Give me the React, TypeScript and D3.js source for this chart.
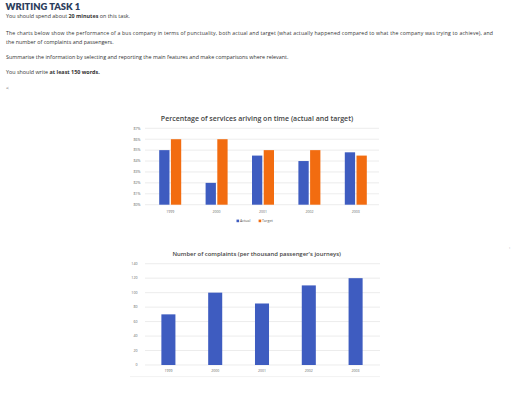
import React from "react";
import * as d3 from "d3";

const years = ["1999", "2000", "2001", "2002", "2003"];
const series = ["Actual", "Target"];
const actual = [85, 82, 84.5, 84, 84.8];
const target = [86, 86, 85, 85, 84.5];
const pctTicks = [80, 81, 82, 83, 84, 85, 86, 87];
const complaints = [70, 100, 85, 110, 120];
const complaintTicks = [0, 20, 40, 60, 80, 100, 120, 140];

const BLUE = "#3e5cc0";
const ORANGE = "#f26c10";
const GRID = "#e4e4e4";
const FONT = "'Open Sans', Lato, sans-serif";

export default function App() {
  // top chart scales
  const x1 = d3.scaleBand().domain(years).range([147, 379]).padding(0);
  const inner = d3.scaleBand().domain(series).range([0, 22]).paddingInner(0.12);
  const y1 = d3.scaleLinear().domain([80, 87]).range([204.7, 128.3]);
  const colors = d3.scaleOrdinal<string, string>().domain(series).range([BLUE, ORANGE]);
  const vals: Record<string, number[]> = { Actual: actual, Target: target };

  // bottom chart scales
  const x2 = d3.scaleBand().domain(years).range([145, 379]).padding(0);
  const y2 = d3.scaleLinear().domain([0, 140]).range([365, 263.7]);
  const bw2 = x2.bandwidth() * 0.3;

  return (
    <svg
      width={512}
      height={413}
      style={{ position: "absolute", left: 0, top: 0, background: "#fff" }}
      fontFamily={FONT}
    >
      {/* header */}
      <text x={5.5} y={9.6} fontSize={9.4} fontWeight={800} fill="#2c3d5c" fontFamily="Lato, sans-serif">
        WRITING TASK 1
      </text>
      <text x={6} y={17.8} fontSize={5.4} fill="#333">
        You should spend about <tspan fontWeight={700}>20 minutes</tspan> on this task.
      </text>
      <text x={6} y={35} fontSize={5.2} fill="#333" textLength={487} lengthAdjust="spacing">
        The charts below show the performance of a bus company in terms of punctuality, both actual and target (what actually happened compared to what the company was trying to achieve), and
      </text>
      <text x={6} y={43.6} fontSize={5.4} fill="#333">
        the number of complaints and passengers.
      </text>
      <text x={6} y={59} fontSize={5.4} fill="#333">
        Summarise the information by selecting and reporting the main features and make comparisons where relevant.
      </text>
      <text x={6} y={73.6} fontSize={5.4} fill="#333">
        You should write <tspan fontWeight={700}>at least 150 words.</tspan>
      </text>
      <text x={6} y={89.5} fontSize={5.4} fill="#555">
        &lt;
      </text>

      {/* top chart */}
      <text x={257} y={120.5} fontSize={7} fontWeight={600} fill="#444" textAnchor="middle">
        Percentage of services ariving on time (actual and target)
      </text>
      {pctTicks.map((t) => (
        <g key={t}>
          <line x1={145} x2={379} y1={y1(t)} y2={y1(t)} stroke={GRID} strokeWidth={0.7} />
          <text x={140.5} y={y1(t) + 1.3} fontSize={3.6} fill="#666" textAnchor="end">
            {t}%
          </text>
        </g>
      ))}
      {years.map((yr, i) => (
        <g key={yr} transform={`translate(${(x1(yr) as number) + x1.bandwidth() / 2 - 11},0)`}>
          {series.map((s) => (
            <rect
              key={s}
              x={inner(s)}
              width={inner.bandwidth()}
              y={y1(vals[s][i])}
              height={y1(80) - y1(vals[s][i])}
              fill={colors(s)}
            />
          ))}
        </g>
      ))}
      {years.map((yr) => (
        <text key={yr} x={(x1(yr) as number) + x1.bandwidth() / 2} y={213} fontSize={3.5} fill="#666" textAnchor="middle">
          {yr}
        </text>
      ))}
      {/* legend */}
      <rect x={236.5} y={219.6} width={2.6} height={2.6} fill={BLUE} />
      <text x={240} y={222.3} fontSize={3.6} fill="#555">Actual</text>
      <rect x={258.6} y={219.6} width={2.6} height={2.6} fill={ORANGE} />
      <text x={262} y={222.3} fontSize={3.6} fill="#555">Target</text>

      {/* bottom chart */}
      <text x={256.7} y={256.4} fontSize={5.9} fontWeight={600} fill="#444" textAnchor="middle">
        Number of complaints (per thousand passenger's journeys)
      </text>
      {complaintTicks.map((t) => (
        <g key={t}>
          <line x1={145} x2={380} y1={y2(t)} y2={y2(t)} stroke={GRID} strokeWidth={0.7} />
          <text x={137.5} y={y2(t) + 1.3} fontSize={3.6} fill="#666" textAnchor="end">
            {t}
          </text>
        </g>
      ))}
      {years.map((yr, i) => (
        <rect
          key={yr}
          x={(x2(yr) as number) + x2.bandwidth() / 2 - bw2 / 2}
          width={bw2}
          y={y2(complaints[i])}
          height={y2(0) - y2(complaints[i])}
          fill={BLUE}
        />
      ))}
      {years.map((yr) => (
        <text key={yr} x={(x2(yr) as number) + x2.bandwidth() / 2} y={372} fontSize={3.5} fill="#666" textAnchor="middle">
          {yr}
        </text>
      ))}
      <line x1={130} x2={380} y1={376.6} y2={376.6} stroke="#ececec" strokeWidth={0.7} />
      <text x={509} y={248.5} fontSize={4} fill="#999">›</text>
    </svg>
  );
}
